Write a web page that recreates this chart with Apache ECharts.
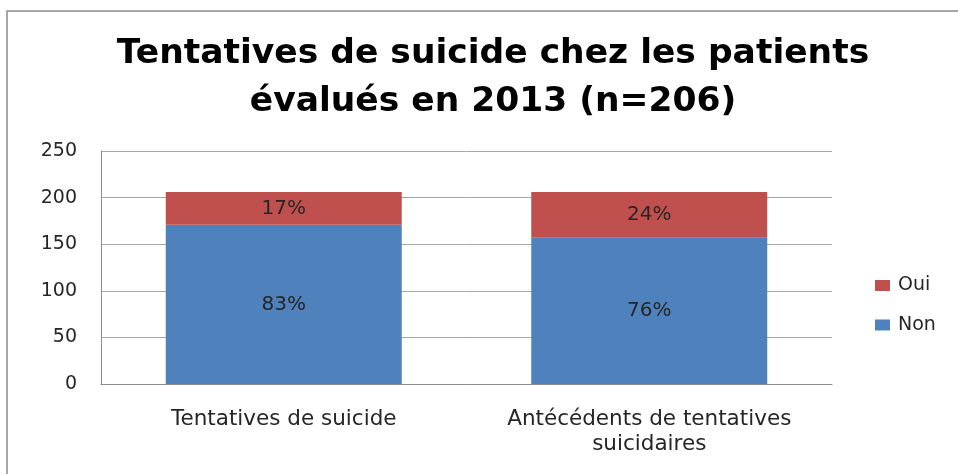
<!DOCTYPE html>
<html>
<head>
<meta charset="utf-8">
<script src="https://cdn.jsdelivr.net/npm/echarts@6/dist/echarts.min.js"></script>
<style>
  html, body { margin: 0; padding: 0; background: #fff; }
  #chart { width: 958px; height: 474px; }
</style>
</head>
<body>
<div id="chart"></div>
<script>
// Patients assessed in 2013 (n = 206)
const categories = ['Tentatives de suicide', 'Antécédents de tentatives\nsuicidaires'];
const nonValues = [171, 157];
const ouiValues = [35, 49];
const yTicks = [0, 50, 100, 150, 200, 250];

const totals = categories.map((_, i) => nonValues[i] + ouiValues[i]);
const pct = p => Math.round(p.value / totals[p.dataIndex] * 100) + '%';

const textColor = '#262626';
const font = 'DejaVu Sans';

const chart = echarts.init(document.getElementById('chart'));
chart.setOption({
  animation: false,
  title: {
    text: 'Tentatives de suicide chez les patients\névalués en 2013 (n=206)',
    left: 488,
    textAlign: 'center',
    top: 25,
    textStyle: {
      fontFamily: font,
      fontWeight: 'bold',
      fontSize: 34.5,
      lineHeight: 48,
      color: '#000'
    }
  },
  graphic: [{
    type: 'rect',
    shape: { x: 7, y: 11, width: 1000, height: 520 },
    style: { fill: 'none', stroke: '#8c8c8c', lineWidth: 1.5 },
    silent: true
  }],
  legend: {
    orient: 'vertical',
    left: 870,
    top: 271,
    itemWidth: 15,
    itemHeight: 11,
    itemGap: 20.5,
    icon: 'rect',
    data: ['Oui', 'Non'],
    textStyle: { fontFamily: font, fontSize: 19, color: textColor, padding: [0, 0, 0, 3] }
  },
  grid: { left: 101, right: 126, top: 151, bottom: 90 },
  xAxis: {
    type: 'category',
    data: categories,
    axisLine: { lineStyle: { color: '#8c8c8c' } },
    axisTick: { show: false },
    axisLabel: {
      fontFamily: font, fontSize: 21.5, color: textColor, margin: 23, lineHeight: 25,
      interval: 0
    }
  },
  yAxis: {
    type: 'value',
    min: 0,
    max: 250,
    interval: 50,
    axisLine: { show: true, lineStyle: { color: '#8c8c8c' } },
    axisTick: { show: false },
    splitLine: { lineStyle: { color: '#a6a6a6' } },
    axisLabel: {
      fontFamily: font, fontSize: 19, color: textColor, margin: 24,
      customValues: yTicks
    }
  },
  series: [
    {
      name: 'Non',
      type: 'bar',
      stack: 'total',
      data: nonValues,
      barWidth: 236,
      itemStyle: { color: '#4f81bd' },
      label: { show: true, position: 'inside', formatter: pct, fontFamily: font, fontSize: 20, color: textColor }
    },
    {
      name: 'Oui',
      type: 'bar',
      stack: 'total',
      data: ouiValues,
      barWidth: 236,
      itemStyle: { color: '#c0504d' },
      label: { show: true, position: 'inside', formatter: pct, fontFamily: font, fontSize: 20, color: textColor }
    }
  ]
});
</script>
</body>
</html>
